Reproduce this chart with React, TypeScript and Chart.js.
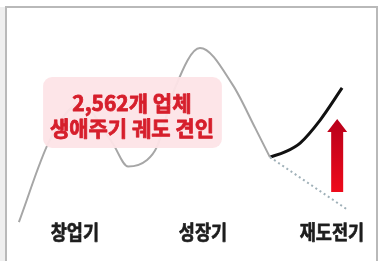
import React, { useEffect, useRef } from "react";
import { Chart, registerables } from "chart.js";

Chart.register(...registerables);

// Life-cycle curve (time 0..100, level 0..100)
const growthX = [5.0, 13.2, 21.2, 29.6, 33.9, 38.9, 41.5, 46.3, 52.9, 61.6, 67.5, 71.4];
const growthY = [14.9, 46.4, 60.2, 45.6, 36.2, 38.7, 43.7, 66.3, 81.6, 67.4, 51.0, 39.8];

// Re-growth path after support
const recoveryX = [71.4, 75.4, 79.4, 84.7, 90.5];
const recoveryY = [39.8, 41.8, 45.2, 54.0, 66.3];

// Decline path without support
const declineX = [71.4, 92.1];
const declineY = [39.8, 19.5];

// Stage labels
const stageLabels = ["창업기", "성장기", "재도전기"];
const stageX = [19.8, 53.7, 87.8];
const stageY = 11.1;

// Callout
const calloutLines = ["2,562개 업체", "생애주기 궤도 견인"];
const calloutX = 34.9;
const calloutLineY = [60.5, 51.0];
const calloutBoxX = [11.4, 58.7];
const calloutBoxY = [43.3, 70.5];

// Upward arrow
const arrowX = 89.2;
const arrowFrom = 26.4;
const arrowTo = 54.4;
const arrowHeadBase = 49.4;

const toPts = (xs: number[], ys: number[]) => xs.map((v, i) => ({ x: v, y: ys[i] }));

const overlayPlugin = {
  id: "overlay",
  afterDatasetsDraw(chart: any) {
    const { ctx } = chart;
    const sx = chart.scales.x;
    const sy = chart.scales.y;

    // callout box
    const bx0 = sx.getPixelForValue(calloutBoxX[0]);
    const bx1 = sx.getPixelForValue(calloutBoxX[1]);
    const by0 = sy.getPixelForValue(calloutBoxY[1]);
    const by1 = sy.getPixelForValue(calloutBoxY[0]);
    ctx.save();
    ctx.fillStyle = "rgba(253,228,231,0.95)";
    ctx.beginPath();
    (ctx as any).roundRect(bx0, by0, bx1 - bx0, by1 - by0, 9);
    ctx.fill();

    ctx.fillStyle = "#d61f2c";
    ctx.strokeStyle = "#d61f2c";
    ctx.lineWidth = 0.8;
    ctx.lineJoin = "round";
    ctx.font = 'bold 21px "Noto Sans CJK KR", "Noto Sans", sans-serif';
    ctx.textAlign = "center";
    ctx.textBaseline = "middle";
    calloutLines.forEach((t, i) => {
      const px = sx.getPixelForValue(calloutX);
      const py = sy.getPixelForValue(calloutLineY[i]);
      ctx.fillText(t, px, py);
      ctx.strokeText(t, px, py);
    });

    // arrow
    const ax = sx.getPixelForValue(arrowX);
    const aTop = sy.getPixelForValue(arrowTo);
    const aBase = sy.getPixelForValue(arrowHeadBase);
    const aBot = sy.getPixelForValue(arrowFrom);
    const grad = ctx.createLinearGradient(0, aTop, 0, aBot);
    grad.addColorStop(0, "#b8001a");
    grad.addColorStop(1, "#ee0a1a");
    ctx.fillStyle = grad;
    ctx.beginPath();
    ctx.moveTo(ax, aTop);
    ctx.lineTo(ax + 10, aBase);
    ctx.lineTo(ax + 6, aBase);
    ctx.lineTo(ax + 6, aBot);
    ctx.lineTo(ax - 6, aBot);
    ctx.lineTo(ax - 6, aBase);
    ctx.lineTo(ax - 10, aBase);
    ctx.closePath();
    ctx.fill();

    // stage labels
    ctx.fillStyle = "#1e1e1e";
    ctx.strokeStyle = "#1e1e1e";
    ctx.lineWidth = 0.6;
    ctx.font = 'bold 17.5px "Noto Sans CJK KR", "Noto Sans", sans-serif';
    stageLabels.forEach((t, i) => {
      const px = sx.getPixelForValue(stageX[i]);
      const py = sy.getPixelForValue(stageY);
      ctx.save();
      ctx.translate(px, py);
      ctx.scale(1, 1.15);
      ctx.fillText(t, 0, 0);
      ctx.strokeText(t, 0, 0);
      ctx.restore();
    });
    ctx.restore();
  },
};

export default function App() {
  const ref = useRef<HTMLCanvasElement | null>(null);

  useEffect(() => {
    if (!ref.current) return;
    const chart = new Chart(ref.current, {
      type: "line",
      data: {
        datasets: [
          {
            data: toPts(growthX, growthY),
            borderColor: "#a6a6a6",
            borderWidth: 2,
            pointRadius: 0,
            cubicInterpolationMode: "monotone",
            fill: false,
          },
          {
            data: toPts(declineX, declineY),
            borderColor: "#9fb0b8",
            borderWidth: 2,
            borderDash: [2, 3],
            pointRadius: 0,
            fill: false,
          },
          {
            data: toPts(recoveryX, recoveryY),
            borderColor: "#111111",
            borderWidth: 3,
            pointRadius: 0,
            cubicInterpolationMode: "monotone",
            fill: false,
          },
        ],
      },
      options: {
        animation: false,
        responsive: false,
        devicePixelRatio: 1,
        layout: { padding: 0 },
        plugins: { legend: { display: false }, tooltip: { enabled: false } },
        scales: {
          x: { type: "linear", min: 0, max: 100, display: false },
          y: { type: "linear", min: 0, max: 100, display: false },
        },
      },
      plugins: [overlayPlugin],
    } as any);
    return () => chart.destroy();
  }, []);

  return (
    <div style={{ position: "fixed", left: 0, top: 0, width: 378, height: 261, background: "#ffffff", overflow: "hidden" }}>
      <div style={{ position: "absolute", left: 0, top: 7, width: 5, height: 254, background: "#efefef" }} />
      <div
        style={{
          position: "absolute",
          left: 5,
          top: 6,
          width: 373,
          height: 262,
          boxSizing: "border-box",
          borderLeft: "2px solid #b9b9b9",
          borderTop: "2px solid #b9b9b9",
          borderRight: "2px solid #b9b9b9",
        }}
      />
      <canvas ref={ref} width={378} height={261} style={{ position: "absolute", left: 0, top: 0 }} />
    </div>
  );
}
